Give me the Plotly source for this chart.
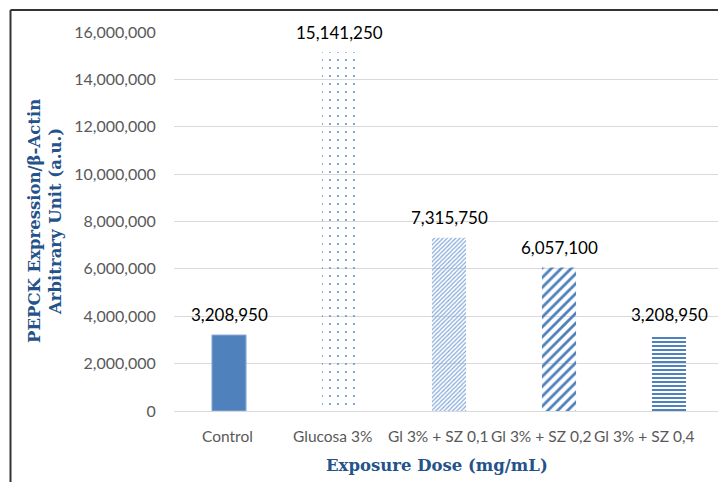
import plotly.graph_objects as go

categories = ["Control", "Glucosa 3%", "Gl 3% + SZ 0,1", "Gl 3% + SZ 0,2", "Gl 3% + SZ 0,4"]
values = [3208950, 15141250, 7315750, 6057100, 3208950]
labels = ["3,208,950", "15,141,250", "7,315,750", "6,057,100", "3,208,950"]
tick_vals = [0, 2000000, 4000000, 6000000, 8000000, 10000000, 12000000, 14000000, 16000000]

# styling
blue = "#4F81BD"
pat_shapes = ["", ".", "/", "/", "-"]
pat_sizes = [8, 8, 3, 7, 4]
pat_solid = [0.3, 0.05, 0.4, 0.4, 0.5]
bar_colors = [blue, "#5B8FD6", "#85A8D9", blue, blue]
label_xshift = [-1.5, -6.5, -11, -18, -25]

# page body has an 8px margin; compensate
OFF = 8
W, H = 726 - OFF, 482 - OFF
L, R, T = 174 - OFF, 2, 32 - OFF
plot_bottom = 411 - OFF
B = H - plot_bottom
pw, ph = W - L - R, H - T - B
fx = lambda px: (px - OFF - L) / pw
fy = lambda py: (H - B - (py - OFF)) / ph

tick_font = dict(family="Lato, Open Sans, sans-serif", size=16, color="#595959")
title_font = dict(family="DejaVu Serif, Liberation Serif, serif", size=16.5, color="#24528A")

fig = go.Figure()
fig.add_trace(go.Bar(
    x=categories, y=values,
    width=0.31,
    marker=dict(
        color=bar_colors,
        line=dict(color=["#8FB0DA", "rgba(0,0,0,0)", "rgba(0,0,0,0)", "rgba(0,0,0,0)", "rgba(0,0,0,0)"], width=1),
        pattern=dict(shape=pat_shapes, size=pat_sizes, solidity=pat_solid,
                     bgcolor="white", fillmode="replace"),
    ),
    showlegend=False, hoverinfo="x+y",
))

annotations = []
for c, v, t in zip(categories, values, labels):
    annotations.append(dict(x=c, y=v, xref="x", yref="y", text=t, showarrow=False,
                            yanchor="middle", yshift=20,
                            font=dict(family="Lato, Open Sans, sans-serif", size=17, color="#000000")))
for c, s in zip(categories, label_xshift):
    annotations.append(dict(x=c, y=0, xref="x", yref="y", text=c, showarrow=False,
                            yanchor="middle", yshift=-25, xshift=s,
                            font=dict(family="Lato, Open Sans, sans-serif", size=15.5, color="#595959")))
annotations.append(dict(x=fx(436.5), y=fy(465), xref="paper", yref="paper",
                        text="<b>Exposure Dose (mg/mL)</b>", showarrow=False,
                        xanchor="center", yanchor="middle", font=title_font))
annotations.append(dict(x=fx(45), y=fy(221), xref="paper", yref="paper",
                        text="<b>PEPCK Expression/β-Actin<br>Arbitrary Unit (a.u.)</b>", showarrow=False,
                        textangle=-90, xanchor="center", yanchor="middle", font=title_font))

fig.update_layout(
    width=W, height=H,
    margin=dict(l=L, r=R, t=T, b=B),
    plot_bgcolor="white", paper_bgcolor="white",
    xaxis=dict(showline=True, linecolor="#D9D9D9", linewidth=1, showticklabels=False, ticks=""),
    yaxis=dict(
        range=[0, 16000000], tickvals=tick_vals, tickformat=",",
        showgrid=True, gridcolor="#D9D9D9", gridwidth=1, zeroline=False,
        tickfont=tick_font, ticks="outside", ticklen=14, tickcolor="white",
    ),
    annotations=annotations,
    shapes=[
        dict(type="line", xref="paper", yref="paper", x0=fx(10.5), x1=fx(760), y0=fy(10), y1=fy(10),
             line=dict(color="#333333", width=2)),
        dict(type="line", xref="paper", yref="paper", x0=fx(10.5), x1=fx(10.5), y0=fy(10), y1=fy(520),
             line=dict(color="#333333", width=2)),
    ],
)

fig.write_html("out.html")
